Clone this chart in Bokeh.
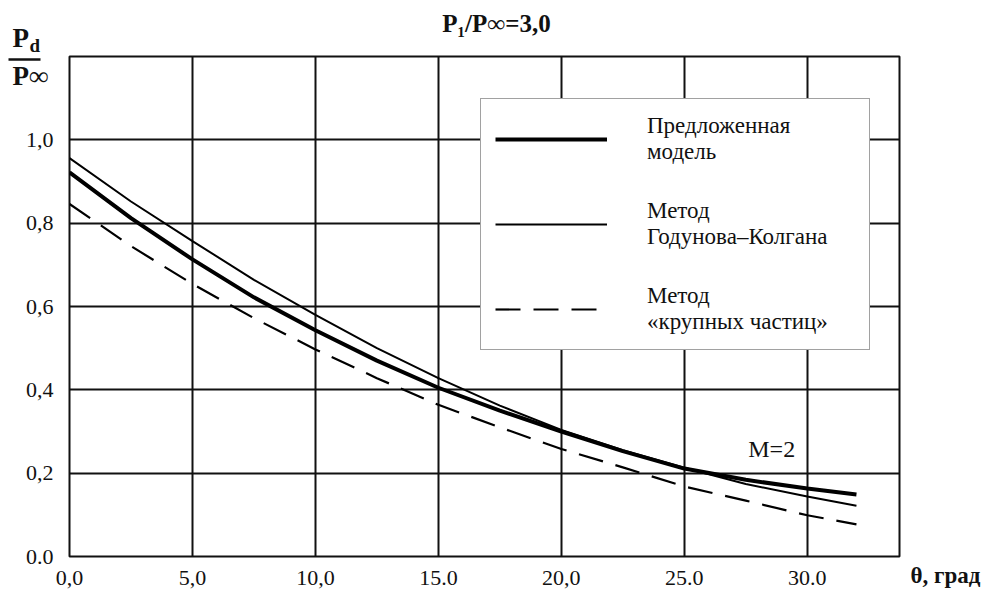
from bokeh.plotting import figure
from bokeh.models import Range1d, FixedTicker, Legend, LegendItem, Label
from bokeh.core.properties import value
from bokeh.embed import file_html
from bokeh.resources import INLINE

# ---- data ----
theta = [0, 2.5, 5, 7.5, 10, 12.5, 15, 17.5, 20, 22.5, 25, 27.5, 30, 32]
proposed = [0.922, 0.812, 0.713, 0.622, 0.543, 0.470, 0.405, 0.350, 0.300, 0.253, 0.211, 0.184, 0.163, 0.149]
godunov = [0.956, 0.852, 0.757, 0.664, 0.580, 0.500, 0.428, 0.362, 0.304, 0.255, 0.213, 0.174, 0.144, 0.122]
large_particles = [0.846, 0.745, 0.654, 0.572, 0.497, 0.428, 0.364, 0.310, 0.258, 0.214, 0.168, 0.134, 0.099, 0.077]

x_ticks = [0, 5, 10, 15, 20, 25, 30]
x_tick_labels = ["0,0", "5,0", "10,0", "15.0", "20,0", "25.0", "30.0"]
y_ticks = [0, 0.2, 0.4, 0.6, 0.8, 1.0]
y_tick_labels = ["0.0", "0,2", "0,4", "0,6", "0,8", "1,0"]

series_labels = ["Предложенная\nмодель", "Метод\nГодунова–Колгана", "Метод\n«крупных частиц»"]
title_text = "P₁/P∞=3,0"
x_title = "θ, град"
mach_label = "M=2"

SERIF = "Liberation Serif"
INK = "#111111"

X_MAX, Y_MAX = 33.75, 1.2
LEFT, RIGHT, TOP, BOTTOM = 69, 108, 56, 39
W, H = 1007, 595
FW, FH = W - LEFT - RIGHT, H - TOP - BOTTOM


def to_x(cx):
    # canvas pixel -> data x (for texts placed outside the frame)
    return (cx - LEFT) / FW * X_MAX


def to_y(cy):
    return (H - BOTTOM - cy) / FH * Y_MAX


p = figure(width=W, height=H, output_backend="svg", toolbar_location=None,
           x_range=Range1d(0, X_MAX), y_range=Range1d(0, Y_MAX),
           min_border_left=LEFT, min_border_right=RIGHT, min_border_top=TOP, min_border_bottom=BOTTOM)
p.background_fill_color = "white"
p.border_fill_color = "white"
p.outline_line_color = INK
p.outline_line_width = 2

p.xaxis.ticker = FixedTicker(ticks=x_ticks)
p.yaxis.ticker = FixedTicker(ticks=y_ticks + [Y_MAX])
p.xaxis.major_label_overrides = {t: l for t, l in zip(x_ticks, x_tick_labels)}
yo = {t: l for t, l in zip(y_ticks, y_tick_labels)}
yo[Y_MAX] = ""
p.yaxis.major_label_overrides = yo
for ax in (p.xaxis, p.yaxis):
    ax.axis_line_color = None
    ax.major_tick_line_color = None
    ax.minor_tick_line_color = None
    ax.major_tick_out = 0
    ax.major_tick_in = 0
    ax.major_label_text_font = SERIF
    ax.major_label_text_font_size = "22px"
    ax.major_label_text_color = INK
p.xaxis.major_label_standoff = 14
p.yaxis.major_label_standoff = 16

for g in (p.xgrid, p.ygrid):
    g.grid_line_color = INK
    g.grid_line_width = 2
    g.grid_line_alpha = 1

r1 = p.line(theta, proposed, line_color="black", line_width=4)
r2 = p.line(theta, godunov, line_color="black", line_width=2)
r3 = p.line(theta, large_particles, line_color="black", line_width=2.2, line_dash="25 13")

legend = Legend(items=[LegendItem(label=series_labels[0], renderers=[r1]),
                       LegendItem(label=series_labels[1], renderers=[r2]),
                       LegendItem(label=series_labels[2], renderers=[r3])],
                location=(411, 206), padding=14, spacing=33, glyph_width=112, glyph_height=52,
                label_standoff=40, label_width=208, label_text_font=SERIF, label_text_font_size="23px",
                label_text_line_height=1.13, label_text_color=INK,
                border_line_color="#444444", border_line_width=1,
                background_fill_color="white", background_fill_alpha=1, margin=0)
p.add_layout(legend)

# texts outside the frame: glyphs on the overlay level (not clipped to the frame)
p.text(x=[to_x(496)], y=[to_y(23)], text=[title_text], text_font=value(SERIF),
       text_font_style="bold", text_font_size="25px", text_align="center",
       text_baseline="alphabetic", text_color=INK, level="overlay")
p.text(x=[to_x(910)], y=[to_y(575)], text=[x_title], text_font=value(SERIF),
       text_font_style="bold", text_font_size="23px", text_align="left",
       text_baseline="alphabetic", text_color=INK, level="overlay")
# y-axis title as a fraction Pd / P∞
p.text(x=[to_x(12)], y=[to_y(37)], text=["P"], text_font=value(SERIF),
       text_font_style="bold", text_font_size="27px", text_align="left",
       text_baseline="alphabetic", text_color=INK, level="overlay")
p.text(x=[to_x(29)], y=[to_y(45)], text=["d"], text_font=value(SERIF),
       text_font_style="bold", text_font_size="19px", text_align="left",
       text_baseline="alphabetic", text_color=INK, level="overlay")
p.segment(x0=[to_x(8)], y0=[to_y(59)], x1=[to_x(40)], y1=[to_y(59)],
          line_color=INK, line_width=2.5, level="overlay")
p.text(x=[to_x(12)], y=[to_y(75)], text=["P∞"], text_font=value(SERIF),
       text_font_style="bold", text_font_size="27px", text_align="left",
       text_baseline="alphabetic", text_color=INK, level="overlay")

p.add_layout(Label(x=27.6, y=0.259, text=mach_label, text_font=SERIF,
                   text_font_size="24px", text_baseline="alphabetic", text_color=INK))

open("out.html", "w").write(file_html(p, INLINE))
